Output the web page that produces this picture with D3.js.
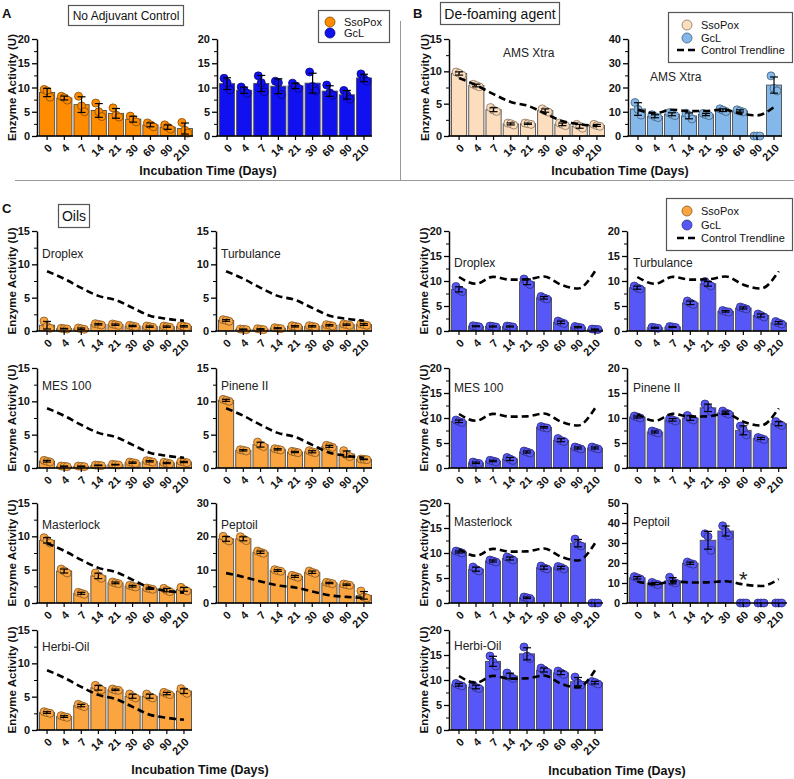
<!DOCTYPE html>
<html>
<head>
<meta charset="utf-8">
<script src="https://cdn.jsdelivr.net/npm/d3@7"></script>
<style>
body { margin: 0; background: #fff; }
svg { font-family: "Liberation Sans", Arial, sans-serif; }
</style>
</head>
<body>
<div id="chart-area"></div>
<script>
// x categories, incubation time in days
var days = ["0", "4", "7", "14", "21", "30", "60", "90", "210"];

// three replicates per time point
// A - no adjuvant control
var ctrlSsoPox = [[9.6,9.3,8.0],[8.2,7.9,7.4],[8.2,6.2,5.0],[6.8,5.0,4.0],[5.8,4.3,3.9],[4.1,3.4,2.9],[2.7,2.3,1.9],[2.3,1.8,1.4],[2.8,1.2,0.6]];
var ctrlGcL = [[11.9,11.0,9.5],[10.1,9.4,8.8],[12.4,11.0,9.1],[11.3,11.0,8.5],[10.9,10.3,9.8],[13.2,10.2,9.3],[10.5,8.9,8.4],[9.4,8.5,7.6],[12.8,11.8,11.3]];

// B - de-foaming agent
var amsSsoPox = [[9.9,9.7,9.4],[8.0,7.8,7.6],[4.4,4.0,3.8],[2.0,1.9,1.7],[2.0,1.9,1.8],[4.2,3.9,3.7],[2.0,1.8,1.6],[1.8,1.5,1.2],[1.8,1.6,1.5]];
var amsGcL = [[13.8,11.0,8.6],[8.8,8.0,7.6],[9.6,8.9,8.4],[9.4,8.5,7.0],[9.3,8.8,8.4],[11.2,10.6,10.1],[10.8,10.3,9.9],[0,0,0],[24.8,19.6,18.6]];

// C - oils
var oilNames = ["Droplex", "Turbulance", "MES 100", "Pinene II", "Masterlock", "Peptoil", "Herbi-Oil"];

var droplexSso = [[1.5,0.7,0.4],[0.4,0.35,0.3],[0.45,0.35,0.25],[1.1,1.0,0.9],[1.05,0.95,0.85],[0.85,0.75,0.65],[0.75,0.65,0.55],[0.75,0.65,0.55],[0.8,0.7,0.6]];
var turbSso = [[1.7,1.6,1.45],[0.3,0.25,0.2],[0.35,0.25,0.2],[0.5,0.4,0.35],[0.8,0.7,0.6],[0.8,0.7,0.6],[0.95,0.85,0.75],[1.05,0.95,0.85],[1.1,0.95,0.85]];
var mesSso = [[1.15,1.0,0.9],[0.3,0.25,0.2],[0.3,0.25,0.2],[0.45,0.4,0.35],[0.55,0.5,0.45],[0.9,0.8,0.7],[1.1,1.0,0.9],[0.85,0.75,0.65],[1.0,0.9,0.8]];
var pineneSso = [[10.3,10.15,10.0],[2.75,2.65,2.55],[3.9,3.4,3.2],[2.9,2.8,2.7],[2.5,2.4,2.3],[2.6,2.4,2.3],[3.4,3.25,3.1],[2.6,2.0,1.7],[1.35,1.3,1.25]];
var masterSso = [[9.8,9.4,9.0],[5.1,4.8,4.5],[1.6,1.45,1.3],[4.5,4.0,3.7],[3.15,3.0,2.9],[2.65,2.5,2.4],[2.25,2.15,2.05],[2.2,1.9,1.7],[2.35,2.0,1.8]];
var peptoilSso = [[20.0,19.1,18.6],[19.9,19.2,18.7],[15.6,15.2,14.9],[10.0,9.7,9.5],[8.3,8.0,7.7],[9.6,9.2,8.9],[6.2,6.0,5.8],[5.7,5.5,5.3],[3.6,1.8,1.5]];
var herbiSso = [[2.75,2.6,2.5],[2.15,2.0,1.9],[3.85,3.65,3.5],[6.7,6.3,6.0],[6.15,6.0,5.95],[5.4,5.0,4.8],[5.4,5.0,4.8],[5.65,5.45,5.3],[6.2,5.8,5.5]];

var droplexGcl = [[8.9,8.2,7.9],[1.05,0.95,0.85],[1.0,0.9,0.8],[1.0,0.9,0.8],[10.4,9.8,9.3],[6.9,6.6,6.4],[2.0,1.7,1.5],[0.9,0.75,0.65],[0.4,0.35,0.3]];
var turbGcl = [[9.0,8.6,8.4],[0.75,0.65,0.55],[0.9,0.8,0.7],[6.0,5.6,5.3],[9.9,9.4,9.0],[4.1,3.9,3.8],[4.8,4.6,4.4],[3.4,3.1,2.8],[1.9,1.6,1.4]];
var mesGcl = [[9.6,9.3,9.1],[1.2,1.0,0.9],[1.55,1.4,1.25],[2.1,1.8,1.5],[3.4,3.2,3.0],[8.3,8.1,8.0],[5.9,5.5,5.3],[4.2,4.0,3.8],[4.2,4.0,3.8]];
var pineneGcl = [[10.4,10.2,10.0],[7.4,7.2,7.0],[9.9,9.6,9.4],[10.5,9.9,9.6],[12.8,12.0,11.3],[11.4,11.0,10.8],[8.4,7.6,6.6],[6.1,5.9,5.7],[9.3,8.8,8.5]];
var masterGcl = [[10.4,10.2,10.0],[7.2,6.7,6.4],[8.6,8.4,8.2],[9.2,8.9,8.6],[1.2,1.05,0.9],[7.4,7.0,6.8],[7.3,7.1,6.8],[12.8,11.7,11.4],[0,0,0]];
var peptoilGcl = [[13.2,12.6,12.0],[10.3,9.6,9.2],[12.9,10.5,10.0],[20.5,19.8,19.4],[34.6,33.2,26.3],[38.6,35.8,33.6],[0,0,0],[0,0,0],[0,0,0]];
var herbiGcl = [[9.3,9.0,8.8],[9.0,8.5,8.3],[14.8,13.6,12.8],[11.4,10.7,10.3],[16.6,14.8,14.3],[12.4,12.0,11.6],[11.8,11.4,11.1],[10.6,9.4,9.0],[9.7,9.5,9.2]];

var oilSsoPox = [droplexSso, turbSso, mesSso, pineneSso, masterSso, peptoilSso, herbiSso];
var oilGcL = [droplexGcl, turbGcl, mesGcl, pineneGcl, masterGcl, peptoilGcl, herbiGcl];

// control trendlines = means of the no-adjuvant control
var ssoTrend = ctrlSsoPox.map(function(r){ return d3.mean(r); });
var gclTrend = ctrlGcL.map(function(r){ return d3.mean(r); });

var svg = d3.select("#chart-area").append("svg")
    .attr("width", 794)
    .attr("height", 779);

var jitter = [-3, 0, 3];

function drawChart(c) {
    var x = d3.scaleBand().domain(days)
        .range([c.x0 + 2, c.x1])
        .paddingInner(0.12).paddingOuter(0.03);
    var y = d3.scaleLinear().domain([0, c.max]).range([c.bottom, c.top]);
    var g = svg.append("g");

    var stats = c.data.map(function(r, i){
        return { day: days[i], reps: r, mean: d3.mean(r), sd: d3.deviation(r) };
    });

    g.selectAll("rect.bar").data(stats).enter().append("rect")
        .attr("x", function(d){ return x(d.day); })
        .attr("y", function(d){ return y(d.mean); })
        .attr("width", x.bandwidth())
        .attr("height", function(d){ return y(0) - y(d.mean); })
        .attr("fill", c.color)
        .attr("stroke", "#4d4d4d")
        .attr("stroke-width", 0.9);

    // replicate points
    var pts = [];
    stats.forEach(function(d){
        d.reps.forEach(function(v, k){ pts.push({ day: d.day, v: v, k: k }); });
    });
    g.selectAll("circle.pt").data(pts).enter().append("circle")
        .attr("cx", function(d){ return x(d.day) + x.bandwidth() / 2 + jitter[d.k]; })
        .attr("cy", function(d){ return y(d.v); })
        .attr("r", 4)
        .attr("fill", c.color)
        .attr("stroke", d3.color(c.color).darker(1.8))
        .attr("stroke-width", 0.8);

    // error bars (mean +- SD)
    var eb = g.selectAll("g.eb").data(stats.filter(function(d){ return d.mean > 0; }))
        .enter().append("g")
        .attr("stroke", "#000").attr("stroke-width", 1.2);
    eb.append("line")
        .attr("x1", function(d){ return x(d.day) + x.bandwidth() / 2; })
        .attr("x2", function(d){ return x(d.day) + x.bandwidth() / 2; })
        .attr("y1", function(d){ return y(d.mean - d.sd); })
        .attr("y2", function(d){ return y(d.mean + d.sd); });
    [-1, 1].forEach(function(s){
        eb.append("line")
            .attr("x1", function(d){ return x(d.day) + x.bandwidth() / 2 - 4; })
            .attr("x2", function(d){ return x(d.day) + x.bandwidth() / 2 + 4; })
            .attr("y1", function(d){ return y(d.mean + s * d.sd); })
            .attr("y2", function(d){ return y(d.mean + s * d.sd); });
    });

    // control trendline
    if (c.trend) {
        var line = d3.line()
            .x(function(d, i){ return x(days[i]) + x.bandwidth() / 2; })
            .y(function(d){ return y(d); })
            .curve(d3.curveMonotoneX);
        g.append("path").datum(c.trend)
            .attr("d", line)
            .attr("fill", "none")
            .attr("stroke", "#000")
            .attr("stroke-width", 2.6)
            .attr("stroke-dasharray", "7,4");
    }

    // y axis
    var yAxis = g.append("g")
        .attr("transform", "translate(" + c.x0 + ",0)")
        .call(d3.axisLeft(y).tickValues(d3.range(0, c.max + 0.001, c.step))
            .tickSize(5).tickSizeOuter(0).tickPadding(2));
    yAxis.select(".domain").attr("stroke-width", 1.5);
    yAxis.selectAll(".tick line").attr("stroke-width", 1.3);
    yAxis.selectAll("text").attr("font-size", 11).attr("font-weight", "bold").attr("fill", "#111");

    g.append("g")
        .attr("transform", "translate(" + c.x0 + ",0)")
        .call(d3.axisLeft(y).tickValues(d3.range(c.step / 2, c.max, c.step))
            .tickSize(3).tickFormat(""))
        .call(function(a){ a.select(".domain").remove(); });

    // x axis
    var xAxis = g.append("g")
        .attr("transform", "translate(0," + c.bottom + ")")
        .call(d3.axisBottom(x).tickSize(4).tickSizeOuter(0));
    xAxis.select(".domain").remove();
    xAxis.selectAll(".tick line").attr("stroke-width", 1.2);
    xAxis.selectAll("text")
        .attr("x", 0).attr("y", 0).attr("dy", "0.35em")
        .attr("transform", "translate(3,10) rotate(-45)")
        .style("text-anchor", "end")
        .attr("font-size", 11).attr("font-weight", "bold").attr("fill", "#111");
    g.append("line")
        .attr("x1", c.x0 - 0.75).attr("x2", c.x1)
        .attr("y1", c.bottom).attr("y2", c.bottom)
        .attr("stroke", "#000").attr("stroke-width", 1.5);

    if (c.label) {
        g.append("text").attr("x", c.lx).attr("y", c.ly)
            .attr("font-size", 12).attr("fill", "#222").text(c.label);
    }
    if (c.yTitle) {
        g.append("text")
            .attr("transform", "translate(" + c.yTitle + "," + ((c.top + c.bottom) / 2) + ") rotate(-90)")
            .attr("dy", "0.35em")
            .attr("text-anchor", "middle")
            .attr("font-size", 11.5).attr("font-weight", "bold").attr("fill", "#111")
            .text("Enzyme Activity (U)");
    }
    return { x: x, y: y };
}

// colours
var colA = { sso: "#FF8C00", gcl: "#1010F0" };
var colB = { sso: "#FCDDBD", gcl: "#84B8EA" };
var colC = { sso: "#FBA540", gcl: "#5757F7" };

// panel A
drawChart({ x0: 37, x1: 193, top: 39, bottom: 136, max: 20, step: 5, data: ctrlSsoPox, color: colA.sso, yTitle: 12 });
drawChart({ x0: 217, x1: 372, top: 39, bottom: 136, max: 20, step: 5, data: ctrlGcL, color: colA.gcl });

// panel B
drawChart({ x0: 449, x1: 605, top: 39, bottom: 136, max: 15, step: 5, data: amsSsoPox, color: colB.sso,
    trend: ssoTrend, label: "AMS Xtra", lx: 503, ly: 57, yTitle: 425 });
drawChart({ x0: 628, x1: 782, top: 39, bottom: 136, max: 40, step: 10, data: amsGcL, color: colB.gcl,
    trend: gclTrend, label: "AMS Xtra", lx: 650, ly: 81 });

// panel C grid
var rowTop = [231, 368, 503, 630];
var leftCols = [[37, 192], [216, 372]];
var rightCols = [[449, 603], [627, 787]];
var leftLabelX = [42, 221], rightLabelX = [454, 633];
var leftLabelDy = [27, 22, 26, 21], rightLabelDy = [36, 24, 23, 20];

oilNames.forEach(function(name, i){
    var row = Math.floor(i / 2), col = i % 2;
    var top = rowTop[row];
    var pept = name === "Peptoil";
    drawChart({ x0: leftCols[col][0], x1: leftCols[col][1], top: top, bottom: top + 100,
        max: pept ? 30 : 15, step: pept ? 10 : 5, data: oilSsoPox[i], color: colC.sso,
        trend: ssoTrend, label: name, lx: leftLabelX[col], ly: top + leftLabelDy[row],
        yTitle: col === 0 ? 12 : null });
    var sc = drawChart({ x0: rightCols[col][0], x1: rightCols[col][1], top: top, bottom: top + 100,
        max: pept ? 50 : 20, step: pept ? 10 : 5, data: oilGcL[i], color: colC.gcl,
        trend: gclTrend, label: name, lx: rightLabelX[col], ly: top + rightLabelDy[row],
        yTitle: col === 0 ? 424 : null });
    if (pept) {
        svg.append("text")
            .attr("x", sc.x("60") + sc.x.bandwidth() / 2).attr("y", sc.y(8))
            .attr("text-anchor", "middle").attr("font-size", 22).attr("fill", "#222")
            .text("*");
    }
});

// x titles
[[208, 175], [620, 175], [200, 774], [617, 775]].forEach(function(p){
    svg.append("text").attr("x", p[0]).attr("y", p[1])
        .attr("text-anchor", "middle")
        .attr("font-size", 12.5).attr("font-weight", "bold").attr("fill", "#111")
        .text("Incubation Time (Days)");
});

// panel separators
svg.append("line").attr("x1", 400.5).attr("x2", 400.5).attr("y1", 21).attr("y2", 180.5)
    .attr("stroke", "#999").attr("stroke-width", 1);
svg.append("line").attr("x1", 15).attr("x2", 794).attr("y1", 180.5).attr("y2", 180.5)
    .attr("stroke", "#999").attr("stroke-width", 1);

// panel letters
[["A", 2, 18], ["B", 413, 18], ["C", 2, 213]].forEach(function(p){
    svg.append("text").attr("x", p[1]).attr("y", p[2])
        .attr("font-size", 13).attr("font-weight", "bold").attr("fill", "#111").text(p[0]);
});

// title boxes
function titleBox(x, y, w, h, txt, size) {
    svg.append("rect").attr("x", x).attr("y", y).attr("width", w).attr("height", h)
        .attr("fill", "#fff").attr("stroke", "#555").attr("stroke-width", 1.2);
    svg.append("text").attr("x", x + w / 2).attr("y", y + h / 2).attr("dy", "0.36em")
        .attr("text-anchor", "middle").attr("font-size", size).attr("fill", "#111").text(txt);
}
titleBox(68.5, 5.5, 115, 20, "No Adjuvant Control", 12);
titleBox(440.5, 2.5, 119, 22, "De-foaming agent", 14);
titleBox(58.5, 204.5, 31, 23, "Oils", 14);

// legends
function legend(x, y, w, h, cx, rows, items) {
    svg.append("rect").attr("x", x).attr("y", y).attr("width", w).attr("height", h)
        .attr("fill", "#fff").attr("stroke", "#555").attr("stroke-width", 1.2);
    items.forEach(function(it, i){
        var yy = rows[i];
        if (it.color) {
            svg.append("circle").attr("cx", cx).attr("cy", yy).attr("r", 5)
                .attr("fill", it.color).attr("stroke", d3.color(it.color).darker(1.8)).attr("stroke-width", 0.8);
        } else {
            svg.append("line").attr("x1", cx - 10).attr("x2", cx + 9).attr("y1", yy).attr("y2", yy)
                .attr("stroke", "#000").attr("stroke-width", 2.6).attr("stroke-dasharray", "7,4");
        }
        svg.append("text").attr("x", cx + 14).attr("y", yy).attr("dy", "0.36em")
            .attr("font-size", 11).attr("fill", "#111").text(it.name);
    });
}
legend(318.5, 10.5, 71, 32, 330, [22, 33], [
    { name: "SsoPox", color: colA.sso }, { name: "GcL", color: colA.gcl }]);
legend(668.5, 12.5, 124, 50, 687, [25, 38, 50], [
    { name: "SsoPox", color: colB.sso }, { name: "GcL", color: colB.gcl }, { name: "Control Trendline" }]);
legend(666.5, 198.5, 126, 52, 687, [211, 225, 238], [
    { name: "SsoPox", color: colC.sso }, { name: "GcL", color: colC.gcl }, { name: "Control Trendline" }]);
</script>
</body>
</html>
